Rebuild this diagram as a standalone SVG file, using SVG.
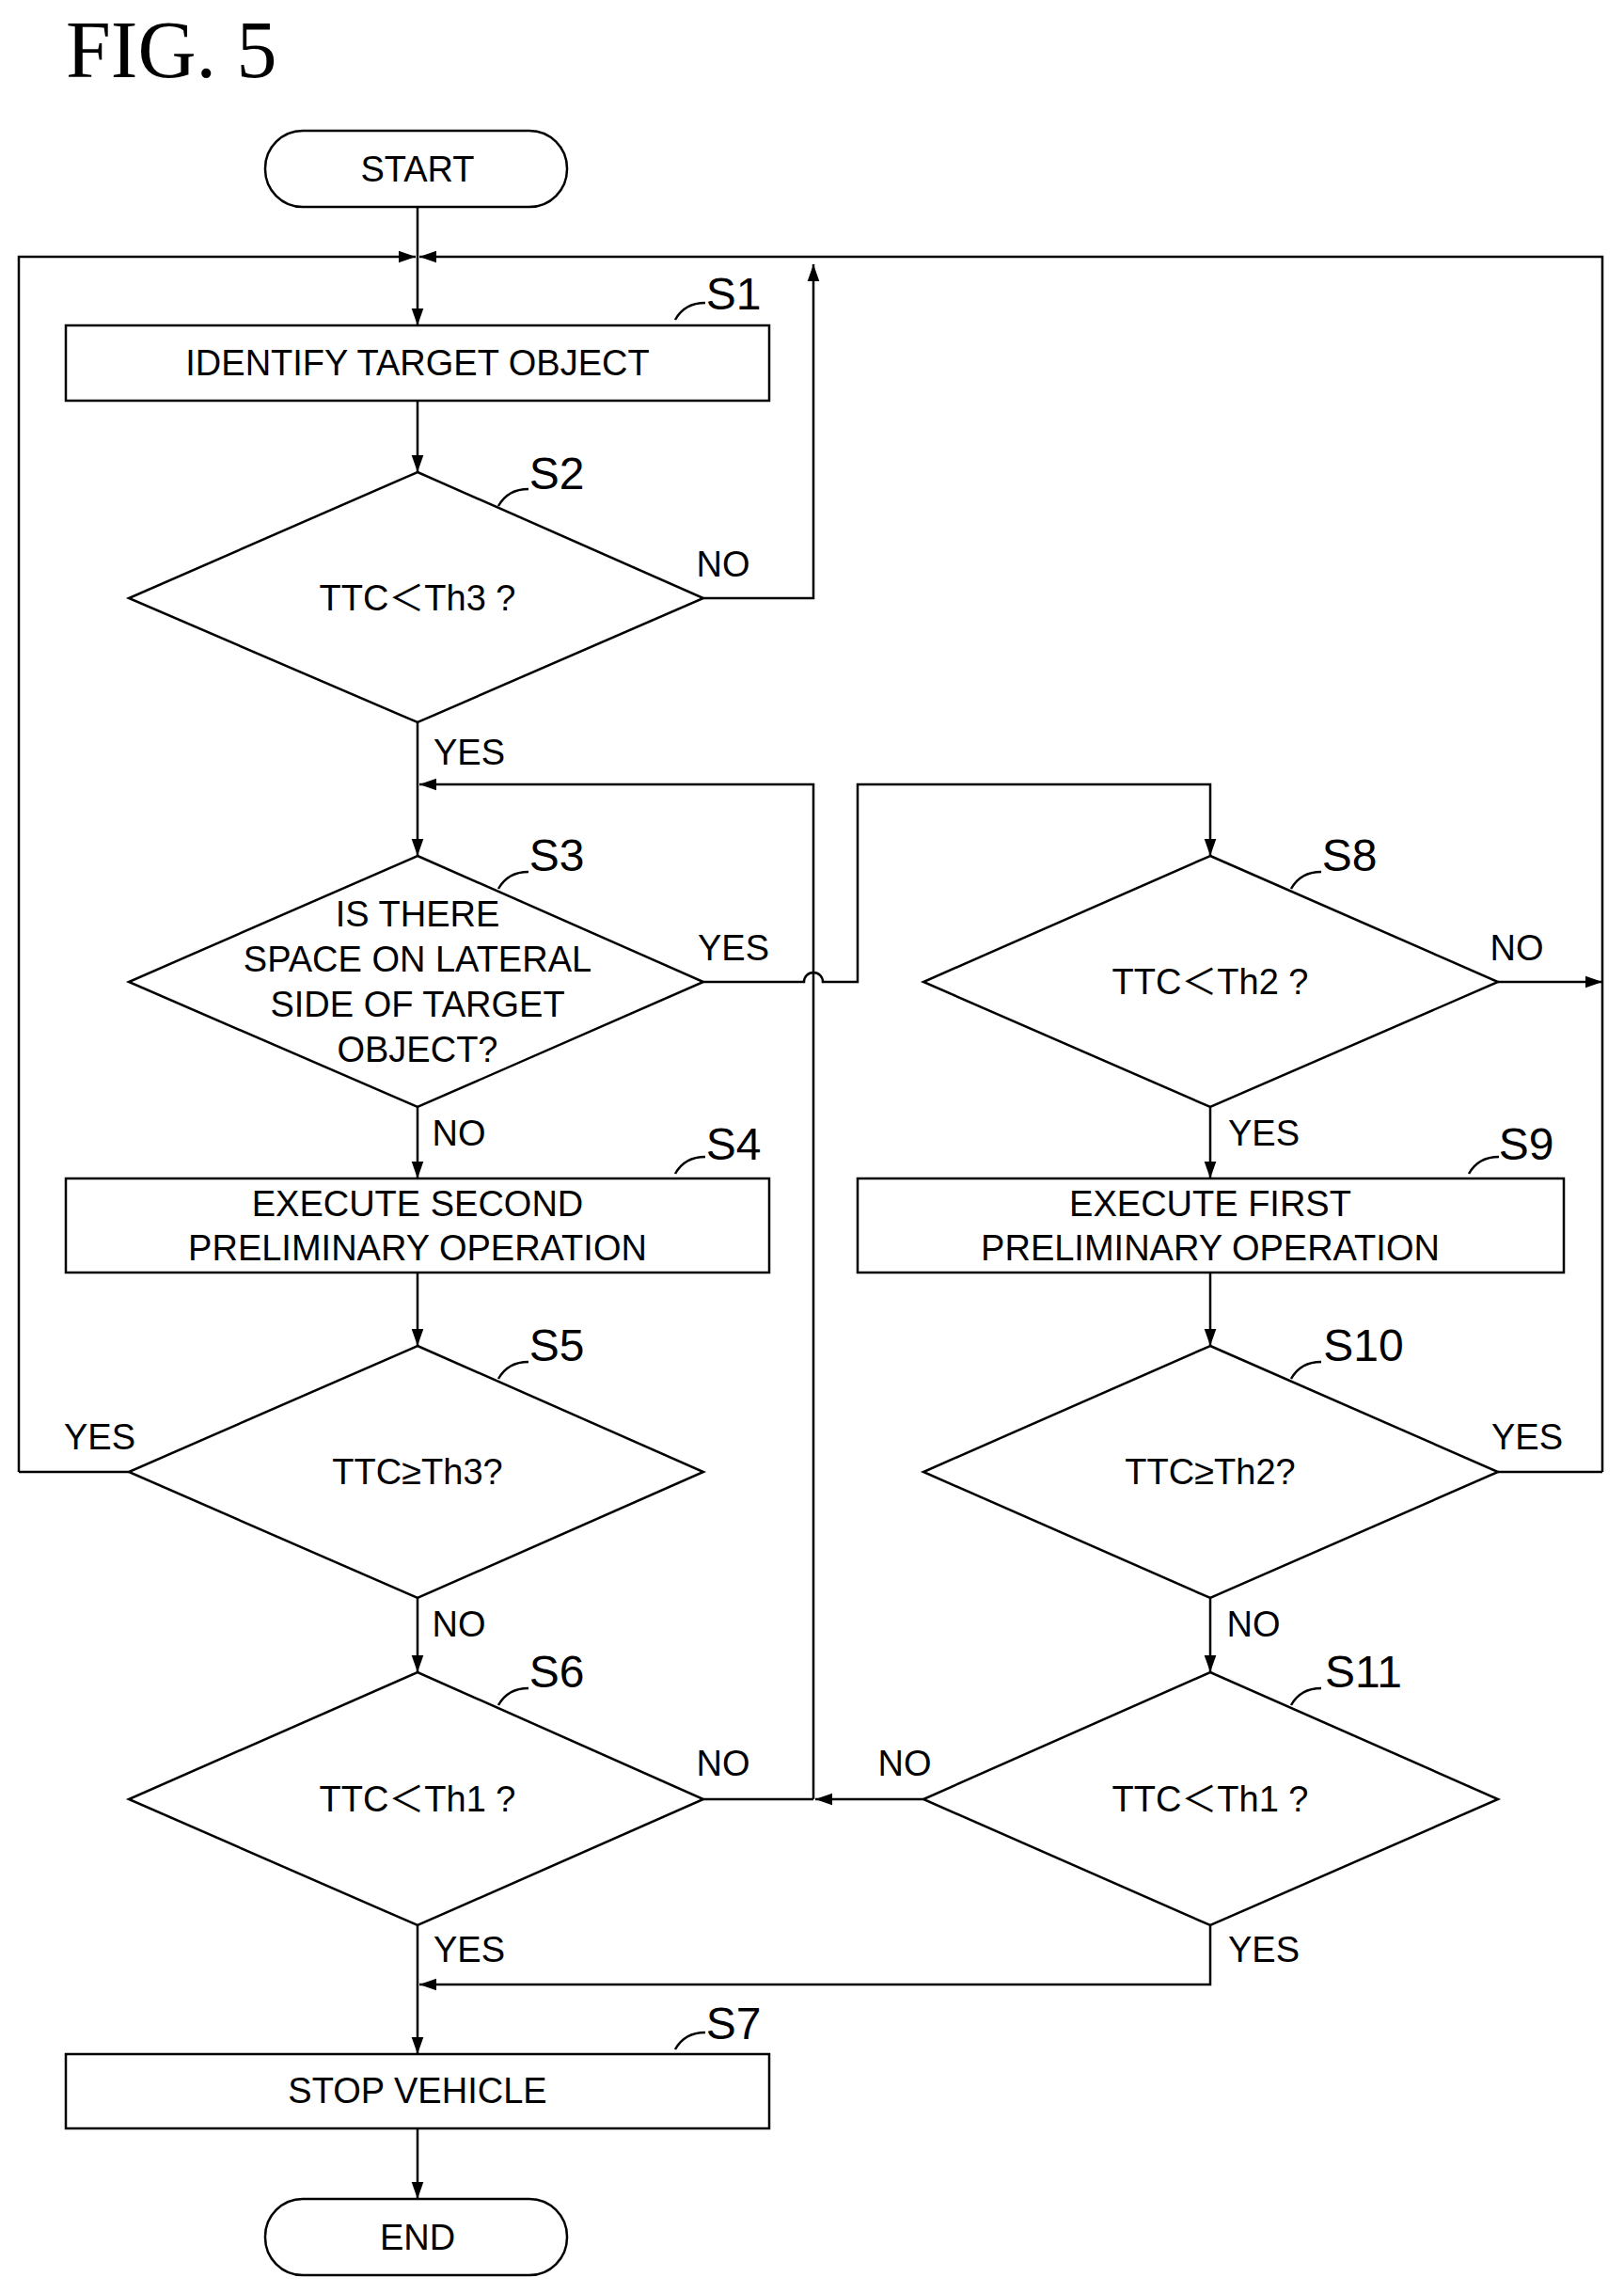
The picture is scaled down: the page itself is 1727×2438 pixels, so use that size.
<svg xmlns="http://www.w3.org/2000/svg" width="1727" height="2438" viewBox="0 0 1727 2438">
<style>
.n{fill:#fff;stroke:#000;stroke-width:2.5}
.c{fill:none;stroke:#000;stroke-width:2.5}
.t{font-family:"Liberation Sans","Noto Sans CJK JP",Arial,sans-serif;font-size:38px;text-anchor:middle;dominant-baseline:central}
.s{font-family:"Liberation Sans",Arial,sans-serif;font-size:48px;text-anchor:middle;dominant-baseline:central}
.l{font-family:"Liberation Sans",Arial,sans-serif;font-size:38px;text-anchor:middle;dominant-baseline:central}
</style>
<defs>
<marker id="b" viewBox="0 0 10 10" refX="10" refY="5" markerWidth="18" markerHeight="18" orient="auto" markerUnits="userSpaceOnUse"><path d="M0,1.5L10,5L0,8.5z"/></marker></defs>
<rect width="1727" height="2438" fill="#fff"/>
<text x="70" y="82" font-family="Liberation Serif,serif" font-size="86">FIG. 5</text>
<g id="connectors">
<path class="c" d="M444,220V346" marker-end="url(#b)"/>
<path class="c" d="M20,1565H137M20,1565V273H442" marker-end="url(#b)"/>
<path class="c" d="M1704,1565H1593M1704,1565V273H446" marker-end="url(#b)"/>
<path class="c" d="M444,426V502" marker-end="url(#b)"/>
<path class="c" d="M748,636H865V281" marker-end="url(#b)"/>
<path class="c" d="M444,768V910" marker-end="url(#b)"/>
<path class="c" d="M865,1913V834H446" marker-end="url(#b)"/>
<path class="c" d="M748,1044H855a10,10 0 0 1 20,0H912V834H1287V910" marker-end="url(#b)"/>
<path class="c" d="M1593,1044H1704" marker-end="url(#b)"/>
<path class="c" d="M444,1177V1253" marker-end="url(#b)"/>
<path class="c" d="M1287,1177V1253" marker-end="url(#b)"/>
<path class="c" d="M444,1353V1431" marker-end="url(#b)"/>
<path class="c" d="M1287,1353V1431" marker-end="url(#b)"/>
<path class="c" d="M444,1699V1778" marker-end="url(#b)"/>
<path class="c" d="M1287,1699V1778" marker-end="url(#b)"/>
<path class="c" d="M748,1913H865"/>
<path class="c" d="M982,1913H867" marker-end="url(#b)"/>
<path class="c" d="M444,2047V2184" marker-end="url(#b)"/>
<path class="c" d="M1287,2047V2110H446" marker-end="url(#b)"/>
<path class="c" d="M444,2263V2338" marker-end="url(#b)"/>
</g>
<g id="start"><rect class="n" x="282" y="139" width="321" height="81" rx="40"/><text class="t" x="444" y="180">START</text></g>
<g id="s1"><rect class="n" x="70" y="346" width="748" height="80"/><text class="t" x="444" y="386">IDENTIFY TARGET OBJECT</text></g>
<g id="s2"><path class="n" d="M444,502L748,636L444,768L137,636z"/><text class="t" x="444" y="636">TTC＜Th3 ?</text></g>
<g id="s3"><path class="n" d="M444,910L748,1044L444,1177L137,1044z"/><text class="t" x="444" y="972">IS THERE</text><text class="t" x="444" y="1020">SPACE ON LATERAL</text><text class="t" x="444" y="1068">SIDE OF TARGET</text><text class="t" x="444" y="1116">OBJECT?</text></g>
<g id="s4"><rect class="n" x="70" y="1253" width="748" height="100"/><text class="t" x="444" y="1280">EXECUTE SECOND</text><text class="t" x="444" y="1327">PRELIMINARY OPERATION</text></g>
<g id="s5"><path class="n" d="M444,1431L748,1565L444,1699L137,1565z"/><text class="t" x="444" y="1565">TTC≥Th3?</text></g>
<g id="s6"><path class="n" d="M444,1778L748,1913L444,2047L137,1913z"/><text class="t" x="444" y="1913">TTC＜Th1 ?</text></g>
<g id="s7"><rect class="n" x="70" y="2184" width="748" height="79"/><text class="t" x="444" y="2223">STOP VEHICLE</text></g>
<g id="end"><rect class="n" x="282" y="2338" width="321" height="81" rx="40"/><text class="t" x="444" y="2379">END</text></g>
<g id="s8"><path class="n" d="M1287,910L1593,1044L1287,1177L982,1044z"/><text class="t" x="1287" y="1044">TTC＜Th2 ?</text></g>
<g id="s9"><rect class="n" x="912" y="1253" width="751" height="100"/><text class="t" x="1287" y="1280">EXECUTE FIRST</text><text class="t" x="1287" y="1327">PRELIMINARY OPERATION</text></g>
<g id="s10"><path class="n" d="M1287,1431L1593,1565L1287,1699L982,1565z"/><text class="t" x="1287" y="1565">TTC≥Th2?</text></g>
<g id="s11"><path class="n" d="M1287,1778L1593,1913L1287,2047L982,1913z"/><text class="t" x="1287" y="1913">TTC＜Th1 ?</text></g>
<g id="steplabels">
<path class="c" d="M718,340q10,-18 32,-18"/><text class="s" x="780" y="312">S1</text>
<path class="c" d="M530,538q10,-18 32,-18"/><text class="s" x="592" y="503">S2</text>
<path class="c" d="M530,945q10,-18 32,-18"/><text class="s" x="592" y="909">S3</text>
<path class="c" d="M718,1248q10,-18 32,-18"/><text class="s" x="780" y="1216">S4</text>
<path class="c" d="M530,1466q10,-18 32,-18"/><text class="s" x="592" y="1430">S5</text>
<path class="c" d="M530,1813q10,-18 32,-18"/><text class="s" x="592" y="1777">S6</text>
<path class="c" d="M718,2179q10,-18 32,-18"/><text class="s" x="780" y="2151">S7</text>
<path class="c" d="M1373,945q10,-18 32,-18"/><text class="s" x="1435" y="909">S8</text>
<path class="c" d="M1562,1248q10,-18 32,-18"/><text class="s" x="1623" y="1216">S9</text>
<path class="c" d="M1373,1466q10,-18 32,-18"/><text class="s" x="1450" y="1430">S10</text>
<path class="c" d="M1373,1813q10,-18 32,-18"/><text class="s" x="1450" y="1777">S11</text>
</g>
<g id="branchlabels">
<text class="l" x="769" y="600">NO</text>
<text class="l" x="499" y="800">YES</text>
<text class="l" x="780" y="1008">YES</text>
<text class="l" x="488" y="1205">NO</text>
<text class="l" x="1613" y="1008">NO</text>
<text class="l" x="1344" y="1205">YES</text>
<text class="l" x="106" y="1528">YES</text>
<text class="l" x="488" y="1727">NO</text>
<text class="l" x="1624" y="1528">YES</text>
<text class="l" x="1333" y="1727">NO</text>
<text class="l" x="769" y="1875">NO</text>
<text class="l" x="962" y="1875">NO</text>
<text class="l" x="499" y="2073">YES</text>
<text class="l" x="1344" y="2073">YES</text>
</g>
</svg>
